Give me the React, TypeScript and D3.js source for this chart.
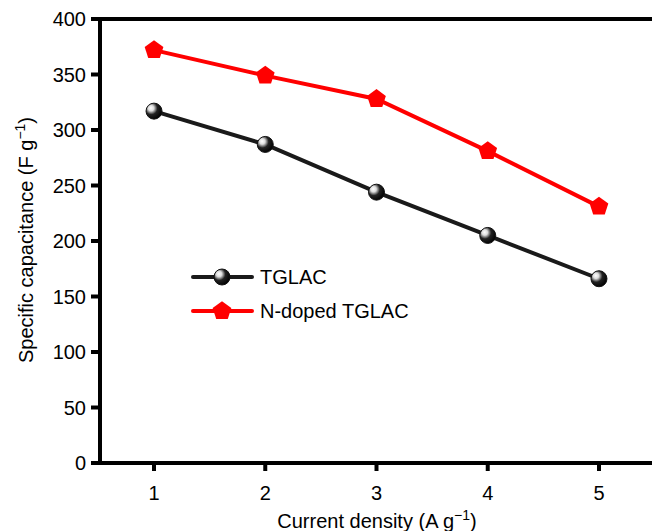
import React from 'react';
import * as d3 from 'd3';

const densities = [1, 2, 3, 4, 5];
const tglac = [317, 287, 244, 205, 166];
const nDoped = [372, 349, 328, 281, 231];
const yTicks = [0, 50, 100, 150, 200, 250, 300, 350, 400];

const W = 652;
const H = 531;

// d3 v7 has no pentagon symbol, so a small custom one
const symbolPentagon = {
  draw(ctx: any, size: number) {
    const r = Math.sqrt(size / 2.378);
    for (let k = 0; k < 5; k++) {
      const a = -Math.PI / 2 + (k * 2 * Math.PI) / 5;
      const px = r * Math.cos(a);
      const py = r * Math.sin(a);
      if (k === 0) ctx.moveTo(px, py);
      else ctx.lineTo(px, py);
    }
    ctx.closePath();
  },
};

export default function App() {
  const x = d3.scaleLinear().domain([0.5, 5.5]).range([98.4, 654.6]);
  const y = d3.scaleLinear().domain([0, 400]).range([463, 19]);

  const line = d3
    .line<number>()
    .x((_, i) => x(densities[i]))
    .y((v) => y(v));

  const pent = d3.symbol().type(symbolPentagon as any).size(230)();
  const font = 'Liberation Sans, Arial, Helvetica, sans-serif';
  const fs = 20;

  const ball = (cx: number, cy: number, key: string) => (
    <circle key={key} cx={cx} cy={cy} r={8} fill="url(#ballGrad)" stroke="#111" strokeWidth={1} />
  );

  return (
    <svg width={W} height={H} style={{ position: 'absolute', left: 0, top: 0 }} fontFamily={font}>
      <defs>
        <radialGradient id="ballGrad" cx="0.35" cy="0.35" r="0.7" fx="0.3" fy="0.3">
          <stop offset="0" stopColor="#fff" />
          <stop offset="0.25" stopColor="#ddd" />
          <stop offset="0.55" stopColor="#222" />
          <stop offset="1" stopColor="#000" />
        </radialGradient>
      </defs>
      <rect width={W} height={H} fill="#fff" />

      {/* frame */}
      <line x1={98} x2={W} y1={19} y2={19} stroke="#000" strokeWidth={4} />
      <line x1={100} x2={100} y1={17} y2={465} stroke="#000" strokeWidth={4} />
      <line x1={98} x2={W} y1={463} y2={463} stroke="#000" strokeWidth={4} />

      {/* y ticks */}
      {yTicks.map((t) => (
        <g key={t}>
          <line x1={91} x2={100} y1={y(t)} y2={y(t)} stroke="#000" strokeWidth={4} />
          <text x={86} y={y(t)} dy="0.36em" textAnchor="end" fontSize={fs}>
            {t}
          </text>
        </g>
      ))}

      {/* x ticks */}
      {densities.map((d) => (
        <g key={d}>
          <line x1={x(d)} x2={x(d)} y1={463} y2={471} stroke="#000" strokeWidth={4} />
          <text x={x(d)} y={500} textAnchor="middle" fontSize={fs}>
            {d}
          </text>
        </g>
      ))}

      {/* axis titles */}
      <text x={377} y={528} textAnchor="middle" fontSize={fs}>
        Current density (A g
        <tspan dy={-8} fontSize={14}>−1</tspan>
        <tspan dy={8}>)</tspan>
      </text>
      <text transform="translate(33,240) rotate(-90)" textAnchor="middle" fontSize={fs}>
        Specific capacitance (F g
        <tspan dy={-8} fontSize={14}>−1</tspan>
        <tspan dy={8}>)</tspan>
      </text>

      {/* series */}
      <path d={line(tglac) ?? ''} fill="none" stroke="#1a1a1a" strokeWidth={4} />
      <path d={line(nDoped) ?? ''} fill="none" stroke="#ff0000" strokeWidth={4} />
      {tglac.map((v, i) => ball(x(densities[i]), y(v), 't' + i))}
      {nDoped.map((v, i) => (
        <path key={'n' + i} d={pent ?? ''} transform={`translate(${x(densities[i])},${y(v)})`} fill="#ff0000" />
      ))}

      {/* legend */}
      <line x1={193} x2={252} y1={277} y2={277} stroke="#1a1a1a" strokeWidth={4} strokeLinecap="round" />
      {ball(222, 277, 'lg1')}
      <text x={260} y={277} dy="0.36em" fontSize={fs}>TGLAC</text>
      <line x1={193} x2={252} y1={311} y2={311} stroke="#ff0000" strokeWidth={4} strokeLinecap="round" />
      <path d={pent ?? ''} transform="translate(222,311)" fill="#ff0000" />
      <text x={260} y={311} dy="0.36em" fontSize={fs}>N-doped TGLAC</text>
    </svg>
  );
}
